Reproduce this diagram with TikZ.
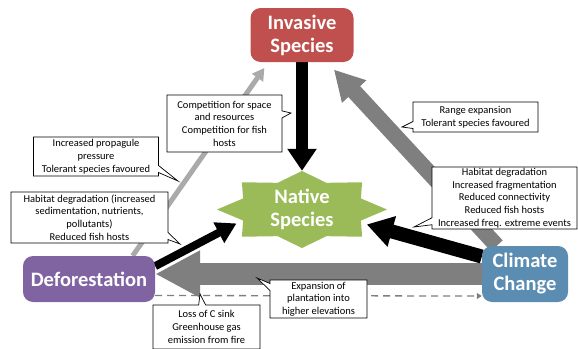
\documentclass[tikz,border=0pt]{standalone}
\usepackage{fontspec}
\setmainfont{Carlito}
\usetikzlibrary{arrows.meta,shapes.geometric,shapes.callouts,backgrounds}
\definecolor{invred}{HTML}{C0504D}
\definecolor{defpurple}{HTML}{8064A2}
\definecolor{natgreen}{HTML}{9BBB59}
\definecolor{climblue}{HTML}{5B8DB3}
\definecolor{arrgray}{HTML}{7F7F7F}
\definecolor{palegray}{HTML}{AAAAAA}
\newcommand{\bigfont}{\fontsize{20.5}{23}\selectfont\bfseries}
\newcommand{\notefont}{\fontsize{10.5}{12.7}\selectfont}

\begin{document}
\begin{tikzpicture}[x=1pt,y=-1pt,
    box/.style={rounded corners=10pt, text=white, align=center, font=\bigfont, inner sep=0pt},
    note/.style={rectangle callout, draw, fill=white, align=center, font=\notefont,
        inner sep=0pt, callout pointer width=7pt, line width=0.7pt}]
    \useasboundingbox (0,0) rectangle (578,348);

    % the four actors
        \node (inv) at (302,35) [box, fill=invred, minimum width=103pt, minimum height=54pt] {Invasive\\Species};
        \node (defo) at (89,279) [box, fill=defpurple, minimum width=132pt, minimum height=46pt] {Deforestation};
        \node (clim) at (525,274) [box, fill=climblue, minimum width=86pt, minimum height=56pt] {Climate\\Change};
        \node (nat) at (302,209.5) [ellipse, minimum width=140pt, minimum height=77pt, inner sep=0pt,
            text=white, align=center, font=\bigfont] {Native\\Species};

    \begin{pgfonlayer}{background}
        % eight point star behind the native species
        \fill[natgreen] plot[samples at={0,22.5,...,337.5}]
            ({302+85*(1-0.25*mod(round(\x/22.5),2))*cos(\x)},
             {209.5+38.5*(1-0.25*mod(round(\x/22.5),2))*sin(\x)}) -- cycle;

        \draw[arrgray, line width=22pt, -{Triangle[width=44pt, length=45pt]}]
        (clim.west) to (clim.west -| defo.east);
        \draw[arrgray, line width=16pt, -{Triangle[width=31pt, length=30pt]}, shorten >=10pt]
        (clim.135) to (inv);
        \draw[palegray, line width=5pt, -{Triangle[width=13pt, length=12pt]}, shorten >=7pt]
        (defo.28) to (inv.219.5);
        \draw[arrgray, line width=1.3pt, dash pattern=on 7pt off 5pt, -{Triangle[width=6pt, length=5pt]}]
        (defo.-14) to (clim.207);

        \draw[black, line width=12pt, -{Triangle[width=28pt, length=22pt]}]
        (inv.south) to (nat.north);
        \draw[black, line width=8pt, -{Triangle[width=22pt, length=20pt]}]
        (defo.11) to (nat.192);
        \draw[black, line width=14pt, -{Triangle[width=30pt, length=26pt]}]
        (clim.158) to (nat.347);
    \end{pgfonlayer}

    % callouts
        \node (compnote) at (224.5,123.5) [note, minimum width=115pt, minimum height=57pt,
            callout absolute pointer={(291,113)}] {Competition for space\\and resources\\Competition for fish\\hosts};
        \node (propnote) at (96,156.5) [note, minimum width=125pt, minimum height=39pt,
            callout absolute pointer={(178,181)}] {Increased propagule\\pressure\\Tolerant species favoured};
        \node (sednote) at (89.5,217.5) [note, minimum width=157pt, minimum height=51pt,
            callout absolute pointer={(180,244)}] {Habitat degradation (increased\\sedimentation, nutrients,\\pollutants)\\Reduced fish hosts};
        \node (rangenote) at (475.5,117) [note, minimum width=125pt, minimum height=30pt,
            callout absolute pointer={(402,127)}] {Range expansion\\Tolerant species favoured};
        \node (fragnote) at (504.5,198) [note, minimum width=145pt, minimum height=62pt,
            callout absolute pointer={(414,227)}] {Habitat degradation\\Increased fragmentation\\Reduced connectivity\\Reduced fish hosts\\Increased freq. extreme events};
        \node (plantnote) at (318.5,299) [note, minimum width=97pt, minimum height=38pt,
            callout absolute pointer={(257,278)}] {Expansion of\\plantation into\\higher elevations};
        \node (sinknote) at (206.5,327) [note, minimum width=107pt, minimum height=44pt,
            callout absolute pointer={(200,294)}] {Loss of C sink\\Greenhouse gas\\emission from fire};

\end{tikzpicture}
\end{document}
